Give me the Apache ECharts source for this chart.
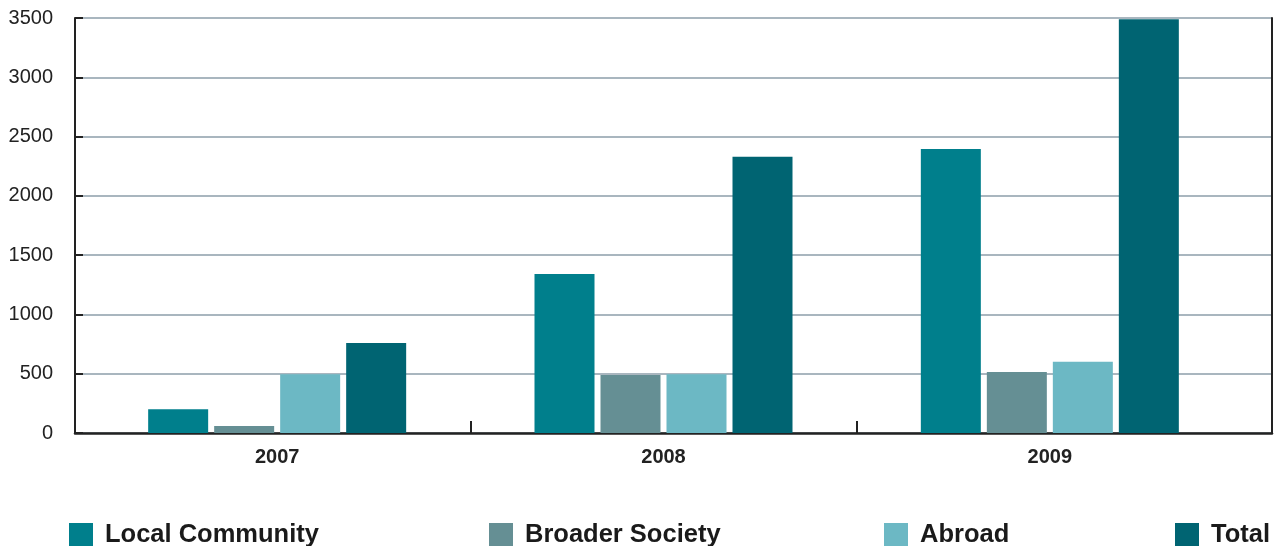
<!DOCTYPE html>
<html>
<head>
<meta charset="utf-8">
<script src="https://cdn.jsdelivr.net/npm/echarts@6/dist/echarts.min.js"></script>
<style>html,body{margin:0;padding:0;background:#fff}#c{width:1281px;height:546px}</style>
</head>
<body>
<div id="c"></div>
<script>
const categories = ['2007', '2008', '2009'];
const seriesNames = ['Local Community', 'Broader Society', 'Abroad', 'Total'];
const localCommunity = [200, 1340, 2395];
const broaderSociety = [60, 490, 515];
const abroad = [495, 495, 600];
const total = [760, 2330, 3490];
const yTicks = [0, 500, 1000, 1500, 2000, 2500, 3000, 3500];

const colors = ['#007f8c', '#658f94', '#6cb8c4', '#006472'];
const values = [localCommunity, broaderSociety, abroad, total];
const legendLefts = [69, 489, 884, 1175];
const font = '"Liberation Sans", Arial, Helvetica, sans-serif';
const innerBoundaries = categories.slice(1).map((c, i) => i + 1);

const chart = echarts.init(document.getElementById('c'), null, {renderer: 'canvas'});
chart.setOption({
  animation: false,
  backgroundColor: '#fff',
  grid: [
    {left: 75, right: 9, top: 18, bottom: 113},
    {left: 84, right: 38, top: 18, bottom: 113}
  ],
  legend: seriesNames.map((n, i) => ({
    data: [n],
    left: legendLefts[i],
    top: 522,
    icon: 'rect',
    itemWidth: 24,
    itemHeight: 24,
    itemGap: 0,
    padding: 0,
    selectedMode: false,
    textStyle: {fontFamily: font, fontWeight: 'bold', fontSize: 25.5, color: '#1a1a1a', padding: [6, 0, 0, 7]}
  })),
  xAxis: [
    {
      type: 'category', gridIndex: 0, data: categories, position: 'bottom',
      axisLine: {show: true, lineStyle: {color: '#222', width: 2.5}},
      axisTick: {show: false}, axisLabel: {show: false}, splitLine: {show: false}
    },
    {
      type: 'category', gridIndex: 1, data: categories, position: 'bottom',
      axisLine: {show: false},
      axisTick: {show: false},
      axisLabel: {fontFamily: font, fontWeight: 'bold', fontSize: 20, color: '#222', margin: 14}
    },
    {
      type: 'value', gridIndex: 1, min: 0, max: categories.length, position: 'bottom',
      axisLine: {show: false}, axisLabel: {show: false}, splitLine: {show: false},
      axisTick: {show: true, inside: true, length: 12, customValues: innerBoundaries,
        lineStyle: {color: '#222', width: 2}}
    }
  ],
  yAxis: [
    {
      type: 'value', gridIndex: 0, min: 0, max: 3500, interval: 500, position: 'left',
      axisLine: {show: true, lineStyle: {color: '#222', width: 2}},
      axisTick: {show: true, inside: true, length: 8, lineStyle: {color: '#222', width: 2}},
      axisLabel: {fontFamily: font, fontSize: 20, color: '#222', margin: 22,
        formatter: v => yTicks.includes(v) ? String(v) : ''},
      splitLine: {show: true, lineStyle: {color: '#a9b6bf', width: 2}}
    },
    {
      type: 'value', gridIndex: 0, min: 0, max: 3500, interval: 500, position: 'right',
      axisLine: {show: true, lineStyle: {color: '#222', width: 2}},
      axisTick: {show: false}, axisLabel: {show: false}, splitLine: {show: false}
    },
    {
      type: 'value', gridIndex: 1, min: 0, max: 3500, interval: 500, show: false,
      splitLine: {show: false}
    }
  ],
  series: seriesNames.map((n, i) => ({
    name: n,
    type: 'bar',
    xAxisIndex: 1,
    yAxisIndex: 2,
    data: values[i],
    barWidth: 60,
    barGap: '10%',
    itemStyle: {color: colors[i]}
  }))
});
</script>
</body>
</html>
